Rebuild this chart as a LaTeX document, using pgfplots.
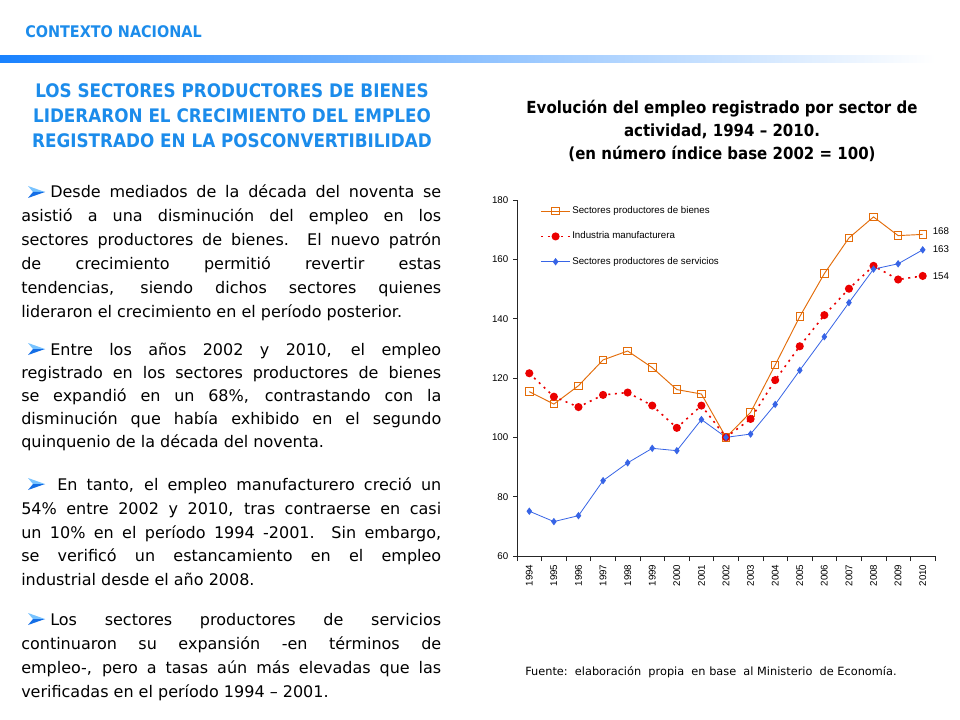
\documentclass[border=0pt]{standalone}
\usepackage{pgfplots}
\pgfplotsset{compat=1.18}
\usepackage{fontspec}
\setmainfont{DejaVu Sans}
\newfontfamily\headfont{DejaVu Sans}[FakeStretch=0.9]
\newfontfamily\arial{Liberation Sans}
\definecolor{hblue}{RGB}{28,140,235}
\definecolor{gbar}{RGB}{25,130,255}
\definecolor{bl}{RGB}{120,195,255}
\definecolor{bd}{RGB}{20,110,230}
\definecolor{corange}{RGB}{227,108,9}
\definecolor{cred}{RGB}{235,0,0}
\definecolor{cblue}{RGB}{55,100,230}
\newcommand{\bodyfont}{\fontsize{12}{14}\selectfont}
\newcommand{\JJ}[4]{\node[anchor=base west, inner sep=0pt, font=\bodyfont] at (#1,#2) {\makebox[#3pt][s]{#4}};}
\newcommand{\LL}[3]{\node[anchor=base west, inner sep=0pt, font=\bodyfont] at (#1,#2) {#3};}
\newcommand{\BB}[1]{%
  \fill[bl] (28,{#1-6}) -- (45,#1) -- (33,#1) -- cycle;
  \fill[bd] (33,#1) -- (45,#1) -- (28,{#1+6}) -- cycle;}
\begin{document}
\begin{tikzpicture}
\begin{scope}[x=0.75pt,y=-0.75pt]
\useasboundingbox (0,0) rectangle (960,720);
\fill[white] (0,0) rectangle (960,720);
% header
\node[anchor=base west, inner sep=0pt, text=hblue, font=\headfont\bfseries\fontsize{12}{14}\selectfont] at (25,38) {CONTEXTO NACIONAL};
\shade[left color=gbar, right color=white] (0,56) rectangle (935,63);
% heading
\node[anchor=base, inner sep=0pt, text=hblue, font=\headfont\bfseries\fontsize{14}{16}\selectfont] at (232,98) {LOS SECTORES PRODUCTORES DE BIENES};
\node[anchor=base, inner sep=0pt, text=hblue, font=\headfont\bfseries\fontsize{14}{16}\selectfont] at (232,123) {LIDERARON EL CRECIMIENTO DEL EMPLEO};
\node[anchor=base, inner sep=0pt, text=hblue, font=\headfont\bfseries\fontsize{14}{16}\selectfont] at (232,148) {REGISTRADO EN LA POSCONVERTIBILIDAD};
% chart title
\node[anchor=base, inner sep=0pt, font=\headfont\bfseries\fontsize{12.5}{14}\selectfont] at (722,114) {Evolución del empleo registrado por sector de};
\node[anchor=base, inner sep=0pt, font=\headfont\bfseries\fontsize{12.5}{14}\selectfont] at (722,137) {actividad, 1994 – 2010.};
\node[anchor=base, inner sep=0pt, font=\headfont\bfseries\fontsize{12.5}{14}\selectfont] at (722,160) {(en número índice base 2002 = 100)};
% paragraph 1
\BB{192}
\JJ{50}{198}{293.25}{Desde mediados de la década del noventa se}
\JJ{21}{222}{315}{asistió a una disminución del empleo en los}
\JJ{21}{246}{315}{sectores productores de bienes. El nuevo patrón}
\JJ{21}{270}{315}{de crecimiento permitió revertir estas}
\JJ{21}{293}{315}{tendencias, siendo dichos sectores quienes}
\LL{21}{317}{lideraron el crecimiento en el período posterior.}
% paragraph 2
\BB{349}
\JJ{50}{355}{293.25}{Entre los años 2002 y 2010, el empleo}
\JJ{21}{378}{315}{registrado en los sectores productores de bienes}
\JJ{21}{401}{315}{se expandió en un 68\%, contrastando con la}
\JJ{21}{424}{315}{disminución que había exhibido en el segundo}
\LL{21}{447}{quinquenio de la década del noventa.}
% paragraph 3
\BB{484}
\JJ{57}{490}{288}{En tanto, el empleo manufacturero creció un}
\JJ{21}{514}{315}{54\% entre 2002 y 2010, tras contraerse en casi}
\JJ{21}{538}{315}{un 10\% en el período 1994 -2001. Sin embargo,}
\JJ{21}{561}{315}{se verificó un estancamiento en el empleo}
\LL{21}{585}{industrial desde el año 2008.}
% paragraph 4
\BB{619}
\JJ{50}{625}{293.25}{Los sectores productores de servicios}
\JJ{21}{649}{315}{continuaron su expansión -en términos de}
\JJ{21}{673}{315}{empleo-, pero a tasas aún más elevadas que las}
\LL{21}{697}{verificadas en el período 1994 – 2001.}
% source
\node[anchor=base west, inner sep=0pt, font=\fontsize{8.5}{10}\selectfont] at (525,675) {Fuente:\ \ elaboración\ \ propia\ \ en base\ \ al Ministerio\ \ de Economía.};
\end{scope}
\begin{axis}[
  at={(387.75pt,-417pt)}, anchor=south west,
  scale only axis, width=313.5pt, height=267pt,
  xmin=-0.5, xmax=16.5, ymin=60, ymax=180,
  axis x line*=bottom, axis y line*=left,
  axis line style={-, draw=black!85, line width=0.5pt},
  tick style={draw=black!85, line width=0.5pt},
  tick align=outside,
  xtick={0,...,16},
  xticklabels={1994,1995,1996,1997,1998,1999,2000,2001,2002,2003,2004,2005,2006,2007,2008,2009,2010},
  major x tick style={draw=none},
  minor xtick={-0.5,0.5,...,16.5},
  minor tick length=3.75pt,
  major tick length=3pt,
  ytick={60,80,...,180},
  /pgf/number format/assume math mode=true,
  ticklabel style={font=\arial\fontsize{7.3}{8}\selectfont},
  xticklabel style={rotate=90, anchor=east},
  clip=false,
  legend style={at={(0.055,0.986)}, anchor=north west, draw=none, fill=none, inner sep=0pt,
    font=\arial\fontsize{7.3}{8}\selectfont, row sep=10.2pt, nodes={inner sep=1pt, anchor=west}},
  legend cell align=left,
  legend image code/.code={\draw[mark repeat=2, mark phase=2, #1] plot coordinates {(0pt,0pt) (10.9pt,0pt) (21.8pt,0pt)};},
]
\addplot[draw=corange, line width=0.7pt, mark=square, mark size=2.8pt, mark options={solid, fill=white, draw=corange}]
 table {
0 115.4
1 111.2
2 117.4
3 126.1
4 129.1
5 123.5
6 116.1
7 114.6
8 100.0
9 108.4
10 124.4
11 140.7
12 155.2
13 167.2
14 174.3
15 168.0
16 168.4
};
\addlegendentry{Sectores productores de bienes}
\addplot[draw=cred, line width=1.2pt, dash pattern=on 1.5pt off 3.5pt, mark=*, mark size=2.4pt, mark options={solid, fill=cred, draw=cred}]
 table {
0 121.6
1 113.7
2 110.2
3 114.3
4 115.1
5 110.7
6 103.2
7 110.7
8 100.0
9 106.2
10 119.3
11 130.7
12 141.2
13 150.1
14 157.8
15 153.2
16 154.4
};
\addlegendentry{Industria manufacturera}
\addplot[draw=cblue, line width=0.6pt, mark=diamond*, mark size=2.3pt, mark options={solid, fill=cblue, draw=cblue}]
 table {
0 75.1
1 71.6
2 73.6
3 85.4
4 91.4
5 96.3
6 95.5
7 106.0
8 100.0
9 101.1
10 111.1
11 122.6
12 133.9
13 145.4
14 156.7
15 158.5
16 163.2
};
\addlegendentry{Sectores productores de servicios}
\node[anchor=west, inner sep=0pt, font=\arial\fontsize{7.3}{8}\selectfont] at (axis cs:16.4,169.6) {168};
\node[anchor=west, inner sep=0pt, font=\arial\fontsize{7.3}{8}\selectfont] at (axis cs:16.4,163.5) {163};
\node[anchor=west, inner sep=0pt, font=\arial\fontsize{7.3}{8}\selectfont] at (axis cs:16.4,154.4) {154};
\end{axis}
\end{tikzpicture}
\end{document}
